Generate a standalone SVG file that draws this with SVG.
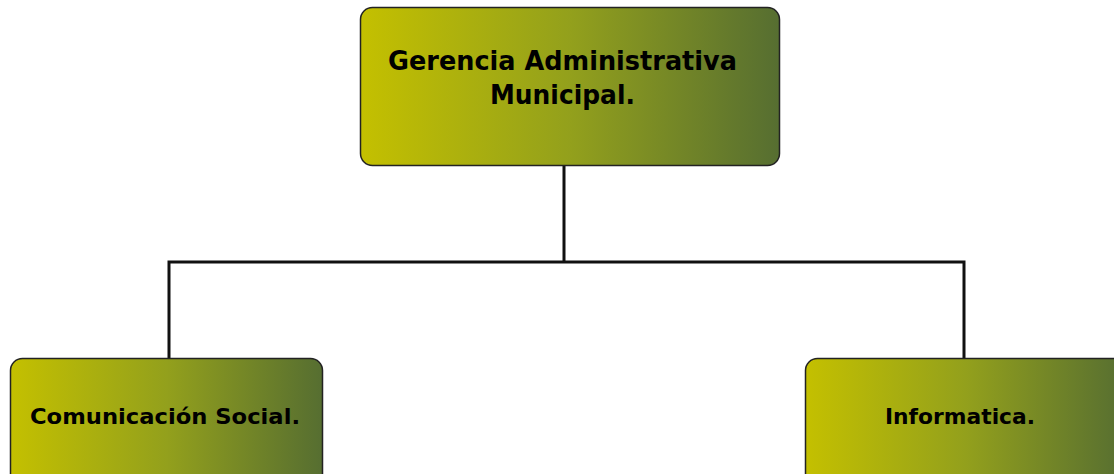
<svg xmlns="http://www.w3.org/2000/svg" width="1114" height="474" viewBox="0 0 1114 474">
<defs>
<linearGradient id="g" x1="0" y1="0" x2="1" y2="0">
<stop offset="0" stop-color="#c4c000"/>
<stop offset="0.5" stop-color="#93a01c"/>
<stop offset="1" stop-color="#566e31"/>
</linearGradient>
</defs>
<style>
.box{fill:url(#g);stroke:#222;stroke-width:1.5}
.t{font-family:"DejaVu Sans",Verdana,sans-serif;font-weight:bold;fill:#000;text-anchor:middle}
.c{fill:none;stroke:#111;stroke-width:3}
</style>
<g id="connectors">
<path class="c" d="M564 166 V262 M169 358 V262 H964 V358"/>
</g>
<g id="gerencia">
<rect class="box" x="360.5" y="7.5" width="419" height="158" rx="12"/>
<text class="t" x="562.5" y="70" font-size="27" textLength="349" lengthAdjust="spacingAndGlyphs">Gerencia Administrativa</text>
<text class="t" x="562.5" y="104" font-size="27" textLength="145" lengthAdjust="spacingAndGlyphs">Municipal.</text>
</g>
<g id="comunicacion">
<rect class="box" x="10.5" y="358.5" width="312" height="130" rx="12"/>
<text class="t" x="165" y="424" font-size="20.5" textLength="270" lengthAdjust="spacingAndGlyphs">Comunicación Social.</text>
</g>
<g id="informatica">
<rect class="box" x="805.5" y="358.5" width="320" height="130" rx="12"/>
<text class="t" x="960" y="424" font-size="20.5" textLength="150" lengthAdjust="spacingAndGlyphs">Informatica.</text>
</g>
</svg>
